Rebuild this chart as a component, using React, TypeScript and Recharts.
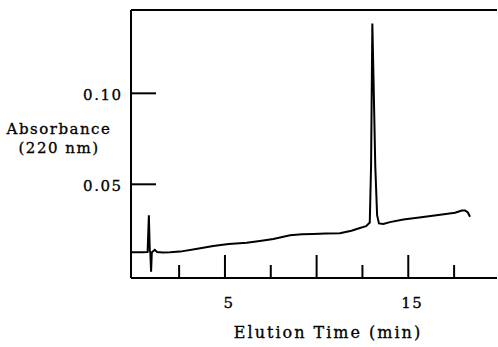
import { LineChart, Line, XAxis, YAxis, ReferenceLine } from "recharts";

// elution time (min) and absorbance at 220 nm
const times = [
  -0.12, 0.5, 0.78, 0.85, 0.9, 0.93, 0.97, 1.01, 1.1, 1.17, 1.3, 1.6, 2.0, 2.55,
  3.5, 4.36, 5.2, 6.19, 7.0, 7.64, 8.55, 9.2, 9.82, 10.5, 11.27, 11.9, 12.36,
  12.7, 12.9, 12.97, 13.04, 13.1, 13.2, 13.3, 13.4, 13.64, 14.0, 14.73, 15.6,
  16.64, 17.55, 17.92, 18.1, 18.25, 18.37,
];
const absorbance = [
  0.0126, 0.0127, 0.0128, 0.033, 0.0135, 0.0125, 0.002, 0.0125, 0.0134, 0.014,
  0.0128, 0.0125, 0.0126, 0.013, 0.0146, 0.0161, 0.0172, 0.0179, 0.019, 0.0199,
  0.022, 0.0225, 0.0227, 0.0229, 0.0231, 0.0245, 0.026, 0.027, 0.029, 0.06,
  0.1384, 0.11, 0.06, 0.033, 0.0285, 0.0282, 0.0292, 0.0307, 0.0318, 0.0331,
  0.0344, 0.0356, 0.0356, 0.0345, 0.0322,
];

const xTicks = [2.5, 5, 7.5, 10, 12.5, 15, 17.5];
const xMajor = [5, 10, 15];
const xLabels = [5, 15];
const yTicks = [0.05, 0.1];
const xDomain = [-0.125, 19.84];
const yDomain = [-0.0015, 0.1458];

const data = times.map((t, i) => ({ t, a: absorbance[i] }));

const FONT = "'DejaVu Serif', serif";
const textStyle = { fontFamily: FONT, fill: "#000", stroke: "#000", strokeWidth: 0.3 };

function XTick({ x, y, payload }: any) {
  const v = payload.value;
  const len = xMajor.includes(v) ? 23 : 13;
  return (
    <g>
      <line x1={x} y1={y} x2={x} y2={y - len} stroke="#000" strokeWidth={2} />
      {xLabels.includes(v) && (
        <text x={x + 4} y={y + 30} textAnchor="middle" fontSize={15} letterSpacing={1.5} {...textStyle}>
          {v}
        </text>
      )}
    </g>
  );
}

function YTick({ x, y, payload }: any) {
  return (
    <g>
      <line x1={x} y1={y} x2={x + 25} y2={y} stroke="#000" strokeWidth={2} />
      <text x={x - 8.5} y={y + 7} textAnchor="end" fontSize={15} letterSpacing={1.5} {...textStyle}>
        {payload.value.toFixed(2)}
      </text>
    </g>
  );
}

function YTitle({ viewBox }: any) {
  const cx = viewBox.x + 51;
  return (
    <text textAnchor="middle" fontSize={15} letterSpacing={1.5} {...textStyle}>
      <tspan x={cx} y={134}>Absorbance</tspan>
      <tspan x={cx} y={153}>(220 nm)</tspan>
    </text>
  );
}

function XTitle({ viewBox }: any) {
  return (
    <text
      x={viewBox.x + 197}
      y={viewBox.y + 60}
      textAnchor="middle"
      fontSize={16}
      letterSpacing={2}
      {...textStyle}
    >
      Elution Time (min)
    </text>
  );
}

export default function App() {
  return (
    <div style={{ position: "absolute", left: 0, top: 0 }}>
      <LineChart width={498} height={347} data={data} margin={{ top: 10, right: 1, bottom: 0, left: 8 }}>
        <XAxis
          dataKey="t"
          type="number"
          domain={xDomain}
          ticks={xTicks}
          interval={0}
          tickSize={0}
          tickMargin={0}
          tick={XTick}
          height={69}
          axisLine={{ stroke: "#000", strokeWidth: 2 }}
          label={{ content: XTitle }}
        />
        <YAxis
          type="number"
          domain={yDomain}
          ticks={yTicks}
          interval={0}
          tickSize={0}
          tickMargin={0}
          tick={YTick}
          width={123}
          axisLine={{ stroke: "#000", strokeWidth: 2 }}
          label={{ content: YTitle }}
        />
        <ReferenceLine y={yDomain[1]} stroke="#000" strokeWidth={2} ifOverflow="visible" />
        <Line
          type="linear"
          dataKey="a"
          stroke="#000"
          strokeWidth={2}
          dot={false}
          isAnimationActive={false}
        />
      </LineChart>
    </div>
  );
}
